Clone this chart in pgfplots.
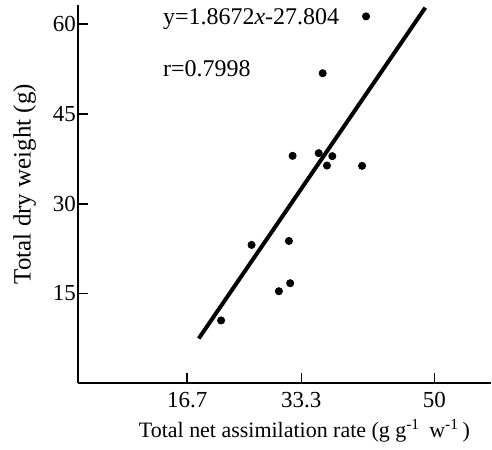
\documentclass[border=0pt]{standalone}
\usepackage{fontspec}
\setmainfont{Liberation Serif}
\usepackage{pgfplots}
\pgfplotsset{compat=1.18}

\begin{document}
\begin{tikzpicture}
\begin{axis}[
    name=ax,
    scale only axis,
    width=207pt, height=189.5pt,
    xmin=3.1, xmax=57.1,
    ymin=0, ymax=63.2,
    axis x line*=bottom,
    axis y line*=left,
    axis line style={-, line width=0.9pt},
    tick align=inside,
    major tick length=5pt,
    tick style={line width=0.8pt, black},
    xtick={17.4,32.3,49.7},
    xticklabels={16.7,33.3,50},
    ytick={15,30,45,60},
    /pgf/number format/assume math mode=true,
    tick label style={font=\fontsize{11.5}{13}\selectfont},
    yticklabel style={xshift=2.5pt},
    xticklabel style={yshift=-1pt},
    xlabel={Total net assimilation rate (g g\textsuperscript{-1}\ \,w\textsuperscript{-1}\,)},
    ylabel={Total dry weight (g)},
    xlabel style={font=\fontsize{11}{13}\selectfont, xshift=10pt, yshift=1pt},
    ylabel style={font=\fontsize{12.5}{14}\selectfont, yshift=1.5pt, xshift=5pt},
    clip=false,
]
\addplot[only marks, mark=*, mark size=1.8pt, black] coordinates {
    (40.76,61.3) (35.09,51.8) (31.16,38.0) (34.57,38.45) (36.35,37.95)
    (35.65,36.38) (40.24,36.33) (25.80,23.12) (30.68,23.78) (29.37,15.38)
    (30.85,16.72) (21.82,10.5)
};
\addplot[black, line width=2pt] coordinates {(18.9,7.49) (48.5,62.76)};
\node[anchor=west, font=\fontsize{12}{14}\selectfont, inner sep=0pt] at (axis cs:14.2,60.9) {y=1.8672\textit{x}-27.804};
\node[anchor=west, font=\fontsize{12}{14}\selectfont, inner sep=0pt] at (axis cs:14.2,52.6) {r=0.7998};
\end{axis}
\path[use as bounding box] ([xshift=-39pt,yshift=-32pt]ax.south west) rectangle ([yshift=2.5pt]ax.north east);
\end{tikzpicture}
\end{document}
